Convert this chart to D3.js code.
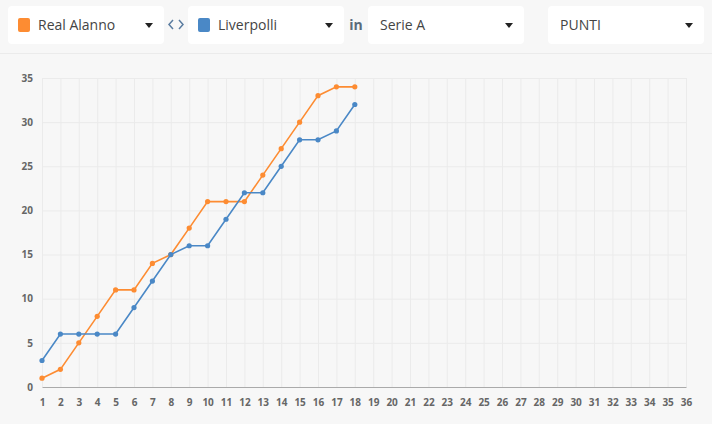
<!DOCTYPE html>
<html>
<head>
<meta charset="utf-8">
<script src="https://cdn.jsdelivr.net/npm/d3@7"></script>
<style>
    body { margin: 0; background: #f7f7f7; font-family: "Open Sans", sans-serif; }
    svg { display: block; }
</style>
</head>
<body>
<div id="divChart"></div>
<script>
// giornate and points for each team
var rounds = d3.range(1, 37);
var teamNames = ["Real Alanno", "Liverpolli"];
var teamColors = ["#fd8c32", "#4a88c6"];
var realAlannoPoints = [1, 2, 5, 8, 11, 11, 14, 15, 18, 21, 21, 21, 24, 27, 30, 33, 34, 34];
var liverpolliPoints = [3, 6, 6, 6, 6, 9, 12, 15, 16, 16, 19, 22, 22, 25, 28, 28, 29, 32];
var leagueName = "Serie A";
var statName = "PUNTI";
var yTicks = [0, 5, 10, 15, 20, 25, 30, 35];

var width = 712, height = 424;
var svg = d3.select("#divChart").append("svg")
    .attr("width", width).attr("height", height);

//============== header with the selectors ==============
function drawSelect(x, label, color) {
    var g = svg.append("g").attr("transform", "translate(" + x + ",6)");
    g.append("rect").attr("width", 156).attr("height", 38).attr("rx", 4).attr("fill", "#fff");
    var textX = 12;
    if (color) {
        g.append("rect").attr("x", 10).attr("y", 12).attr("width", 12).attr("height", 14)
            .attr("rx", 2).attr("fill", color);
        textX = 30;
    }
    g.append("text").attr("x", textX).attr("y", 24).attr("font-size", 14)
        .attr("fill", "#444").text(label);
    g.append("path").attr("d", "M137,17 L145,17 L141,22 Z").attr("fill", "#222");
}
drawSelect(8, teamNames[0], teamColors[0]);
drawSelect(188, teamNames[1], teamColors[1]);
drawSelect(368, leagueName);
drawSelect(548, statName);

// "<>" swap icon between the two teams
svg.append("path").attr("d", "M173,20 L169,24.5 L173,29 M179,20 L183,24.5 L179,29")
    .attr("fill", "none").attr("stroke", "#5a7ca0").attr("stroke-width", 1.5);
svg.append("text").attr("x", 356).attr("y", 30).attr("text-anchor", "middle")
    .attr("font-size", 14).attr("font-weight", 700).attr("fill", "#5a6b7b").text("in");

svg.append("line").attr("x1", 0).attr("x2", width).attr("y1", 53.5).attr("y2", 53.5)
    .attr("stroke", "#ebebeb");

//============== chart ==============
var x = d3.scaleLinear().domain([1, 36]).range([42, 686]);
var y = d3.scaleLinear().domain([0, 35]).range([387, 78]);

var grid = svg.append("g");
grid.selectAll(".vgrid").data(rounds).enter().append("line")
    .attr("x1", function (d) { return x(d) + 0.5; })
    .attr("x2", function (d) { return x(d) + 0.5; })
    .attr("y1", y(35)).attr("y2", y(0))
    .attr("stroke", "#ebebeb");
grid.selectAll(".hgrid").data(yTicks.slice(1)).enter().append("line")
    .attr("x1", x(1)).attr("x2", x(36))
    .attr("y1", function (d) { return y(d) + 0.5; })
    .attr("y2", function (d) { return y(d) + 0.5; })
    .attr("stroke", "#ebebeb");

var xAxis = svg.append("g").attr("transform", "translate(0," + y(0) + ")")
    .call(d3.axisBottom(x).tickValues(rounds).tickSize(0).tickPadding(12).tickFormat(d3.format("d")));
xAxis.select(".domain").attr("stroke", "#aaa");
xAxis.selectAll("text").attr("font-size", 10).attr("font-weight", 700)
    .attr("fill", "#666").attr("font-family", "Open Sans, sans-serif");

var yAxis = svg.append("g").attr("transform", "translate(" + x(1) + ",0)")
    .call(d3.axisLeft(y).tickValues(yTicks).tickSize(0).tickPadding(9));
yAxis.select(".domain").remove();
yAxis.selectAll("text").attr("font-size", 10).attr("font-weight", 700)
    .attr("fill", "#666").attr("font-family", "Open Sans, sans-serif");

var line = d3.line()
    .x(function (d, i) { return x(i + 1); })
    .y(function (d) { return y(d); });

[realAlannoPoints, liverpolliPoints].forEach(function (points, k) {
    var g = svg.append("g");
    g.append("path").datum(points).attr("d", line)
        .attr("fill", "none").attr("stroke", teamColors[k]).attr("stroke-width", 1.6);
    g.selectAll("circle").data(points).enter().append("circle")
        .attr("cx", function (d, i) { return x(i + 1); })
        .attr("cy", function (d) { return y(d); })
        .attr("r", 2.6).attr("fill", teamColors[k]);
});
</script>
</body>
</html>
